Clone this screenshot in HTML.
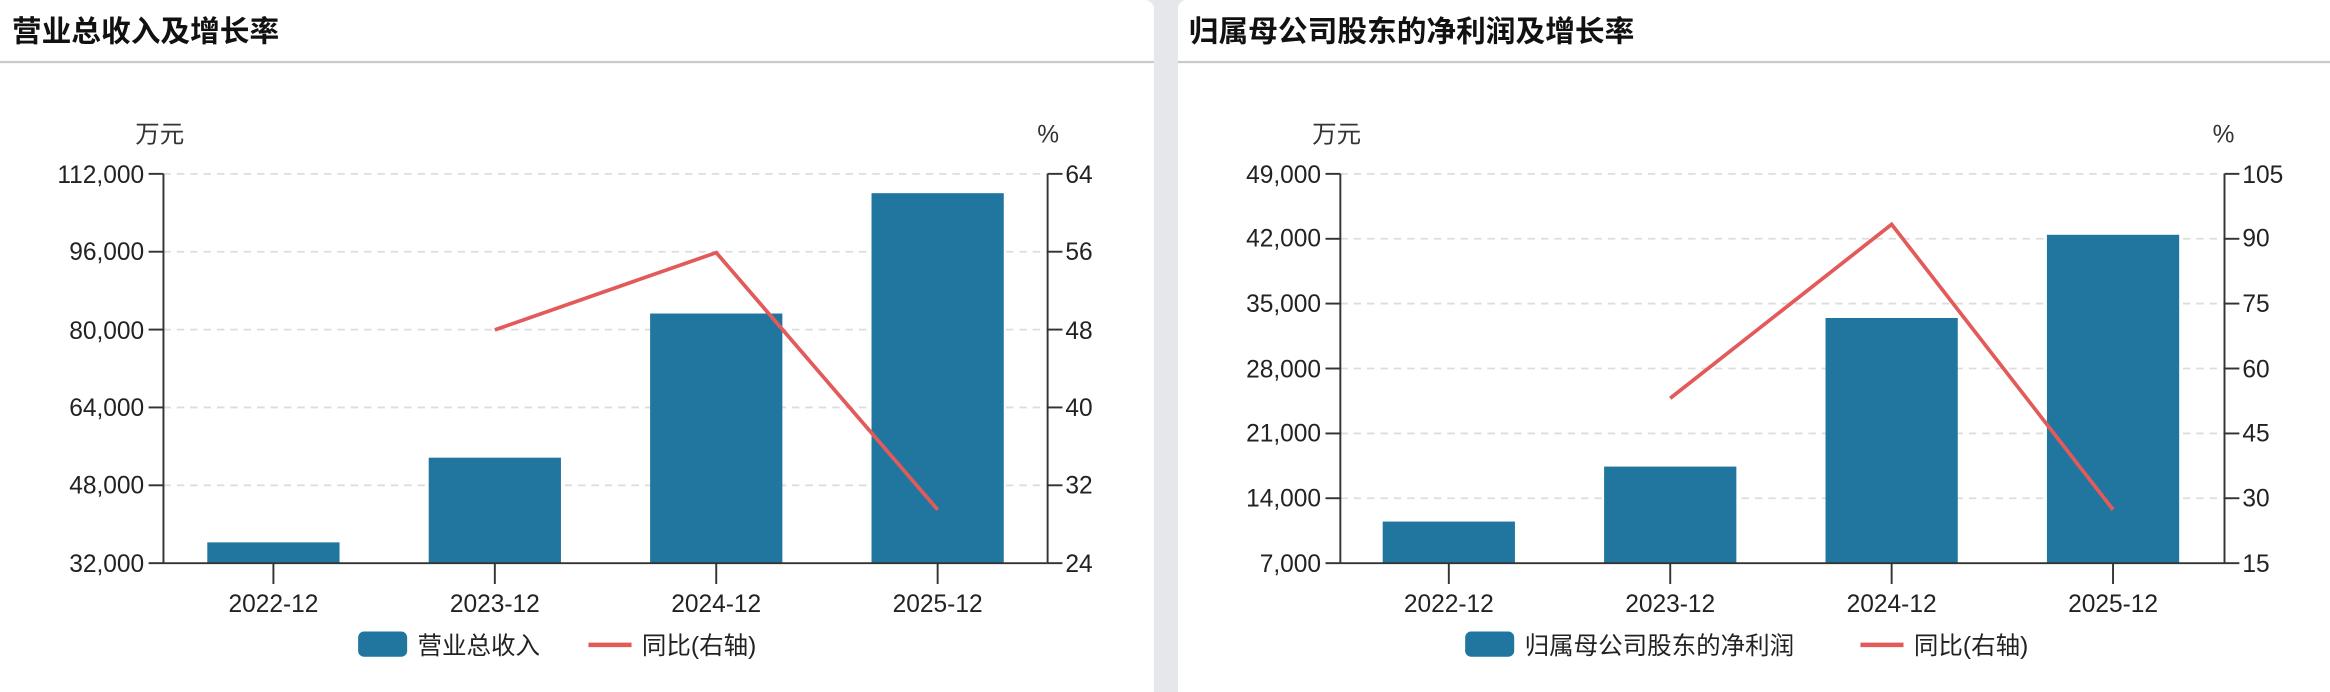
<!DOCTYPE html>
<html><head><meta charset="utf-8"><style>
html,body{margin:0;padding:0;background:#fff;}
svg{display:block;}
text{font-family:"Liberation Sans","Noto Sans CJK SC",sans-serif;fill:#222;}
</style></head><body>
<svg width="2330" height="692" viewBox="0 0 1568 465.7" preserveAspectRatio="none" xmlns="http://www.w3.org/2000/svg">
<rect x="0" y="0" width="1568" height="466" fill="#fff"/>
<rect x="776.5" y="0" width="16.2" height="466" fill="#e6e7ea"/>
<path d="M776.5 0 h-6 a6 6 0 0 1 6 6z" fill="#e6e7ea"/>
<path d="M792.7 0 h6 a6 6 0 0 0 -6 6z" fill="#e6e7ea"/>
<rect x="0" y="41" width="776.5" height="1.5" fill="#c9c9ce"/>
<rect x="792.7" y="41" width="775.3" height="1.5" fill="#c9c9ce"/>
<text x="8" y="28" font-size="20" font-weight="bold" style="fill:#111">营业总收入及增长率</text>
<text x="800" y="28" font-size="20" font-weight="bold" style="fill:#111">归属母公司股东的净利润及增长率</text>

<!-- LEFT CHART -->
<g font-size="16.5">
<text x="91" y="96" style="fill:#333">万元</text>
<text x="698" y="96" style="fill:#333">%</text>
<g stroke="#ddd" stroke-dasharray="5,4" stroke-width="1.2">
<line x1="110" y1="117" x2="705" y2="117"/><line x1="110" y1="169.4" x2="705" y2="169.4"/>
<line x1="110" y1="221.8" x2="705" y2="221.8"/><line x1="110" y1="274.2" x2="705" y2="274.2"/>
<line x1="110" y1="326.6" x2="705" y2="326.6"/>
</g>
<g fill="#21769f">
<rect x="139.5" y="365" width="89" height="14"/>
<rect x="288.5" y="308" width="89" height="71"/>
<rect x="437.5" y="211" width="89" height="168"/>
<rect x="586.5" y="130" width="89" height="249"/>
</g>
<polyline points="333,222 482,170 631,343" fill="none" stroke="#e35a5a" stroke-width="2.5"/>
<g stroke="#333" stroke-width="1.3">
<line x1="110" y1="117" x2="110" y2="379"/><line x1="705" y1="117" x2="705" y2="379"/>
<line x1="110" y1="379" x2="705" y2="379"/>
<line x1="100" y1="117" x2="110" y2="117"/><line x1="100" y1="169.4" x2="110" y2="169.4"/><line x1="100" y1="221.8" x2="110" y2="221.8"/><line x1="100" y1="274.2" x2="110" y2="274.2"/><line x1="100" y1="326.6" x2="110" y2="326.6"/><line x1="100" y1="379" x2="110" y2="379"/>
<line x1="705" y1="117" x2="715" y2="117"/><line x1="705" y1="169.4" x2="715" y2="169.4"/><line x1="705" y1="221.8" x2="715" y2="221.8"/><line x1="705" y1="274.2" x2="715" y2="274.2"/><line x1="705" y1="326.6" x2="715" y2="326.6"/><line x1="705" y1="379" x2="715" y2="379"/>
<line x1="184" y1="379" x2="184" y2="393"/><line x1="333" y1="379" x2="333" y2="393"/><line x1="482" y1="379" x2="482" y2="393"/><line x1="631" y1="379" x2="631" y2="393"/>
</g>
<g text-anchor="end">
<text x="97" y="123">112,000</text><text x="97" y="175">96,000</text><text x="97" y="228">80,000</text><text x="97" y="280">64,000</text><text x="97" y="332">48,000</text><text x="97" y="385">32,000</text>
</g>
<g>
<text x="717" y="123">64</text><text x="717" y="175">56</text><text x="717" y="228">48</text><text x="717" y="280">40</text><text x="717" y="332">32</text><text x="717" y="385">24</text>
</g>
<g text-anchor="middle">
<text x="184" y="412">2022-12</text><text x="333" y="412">2023-12</text><text x="482" y="412">2024-12</text><text x="631" y="412">2025-12</text>
</g>
<rect x="241" y="425" width="33" height="17" rx="4" fill="#21769f"/>
<text x="281" y="440">营业总收入</text>
<line x1="396" y1="434" x2="425" y2="434" stroke="#e35a5a" stroke-width="3"/>
<text x="432" y="440">同比(右轴)</text>
</g>

<!-- RIGHT CHART -->
<g font-size="16.5">
<text x="883" y="96" style="fill:#333">万元</text>
<text x="1489" y="96" style="fill:#333">%</text>
<g stroke="#ddd" stroke-dasharray="5,4" stroke-width="1.2">
<line x1="902" y1="117" x2="1497" y2="117"/><line x1="902" y1="160.7" x2="1497" y2="160.7"/>
<line x1="902" y1="204.3" x2="1497" y2="204.3"/><line x1="902" y1="248" x2="1497" y2="248"/>
<line x1="902" y1="291.7" x2="1497" y2="291.7"/><line x1="902" y1="335.3" x2="1497" y2="335.3"/>
</g>
<g fill="#21769f">
<rect x="930.5" y="351" width="89" height="28"/>
<rect x="1079.5" y="314" width="89" height="65"/>
<rect x="1228.5" y="214" width="89" height="165"/>
<rect x="1377.5" y="158" width="89" height="221"/>
</g>
<polyline points="1124,268 1273,151 1422,343" fill="none" stroke="#e35a5a" stroke-width="2.5"/>
<g stroke="#333" stroke-width="1.3">
<line x1="902" y1="117" x2="902" y2="379"/><line x1="1497" y1="117" x2="1497" y2="379"/>
<line x1="902" y1="379" x2="1497" y2="379"/>
<line x1="892" y1="117" x2="902" y2="117"/><line x1="892" y1="160.7" x2="902" y2="160.7"/><line x1="892" y1="204.3" x2="902" y2="204.3"/><line x1="892" y1="248" x2="902" y2="248"/><line x1="892" y1="291.7" x2="902" y2="291.7"/><line x1="892" y1="335.3" x2="902" y2="335.3"/><line x1="892" y1="379" x2="902" y2="379"/>
<line x1="1497" y1="117" x2="1507" y2="117"/><line x1="1497" y1="160.7" x2="1507" y2="160.7"/><line x1="1497" y1="204.3" x2="1507" y2="204.3"/><line x1="1497" y1="248" x2="1507" y2="248"/><line x1="1497" y1="291.7" x2="1507" y2="291.7"/><line x1="1497" y1="335.3" x2="1507" y2="335.3"/><line x1="1497" y1="379" x2="1507" y2="379"/>
<line x1="975" y1="379" x2="975" y2="393"/><line x1="1124" y1="379" x2="1124" y2="393"/><line x1="1273" y1="379" x2="1273" y2="393"/><line x1="1422" y1="379" x2="1422" y2="393"/>
</g>
<g text-anchor="end">
<text x="889" y="123">49,000</text><text x="889" y="166">42,000</text><text x="889" y="210">35,000</text><text x="889" y="254">28,000</text><text x="889" y="297">21,000</text><text x="889" y="341">14,000</text><text x="889" y="385">7,000</text>
</g>
<g>
<text x="1509" y="123">105</text><text x="1509" y="166">90</text><text x="1509" y="210">75</text><text x="1509" y="254">60</text><text x="1509" y="297">45</text><text x="1509" y="341">30</text><text x="1509" y="385">15</text>
</g>
<g text-anchor="middle">
<text x="975" y="412">2022-12</text><text x="1124" y="412">2023-12</text><text x="1273" y="412">2024-12</text><text x="1422" y="412">2025-12</text>
</g>
<rect x="986" y="425" width="33" height="17" rx="4" fill="#21769f"/>
<text x="1026" y="440">归属母公司股东的净利润</text>
<line x1="1252" y1="434" x2="1281" y2="434" stroke="#e35a5a" stroke-width="3"/>
<text x="1288" y="440">同比(右轴)</text>
</g>
</svg>
</body></html>
